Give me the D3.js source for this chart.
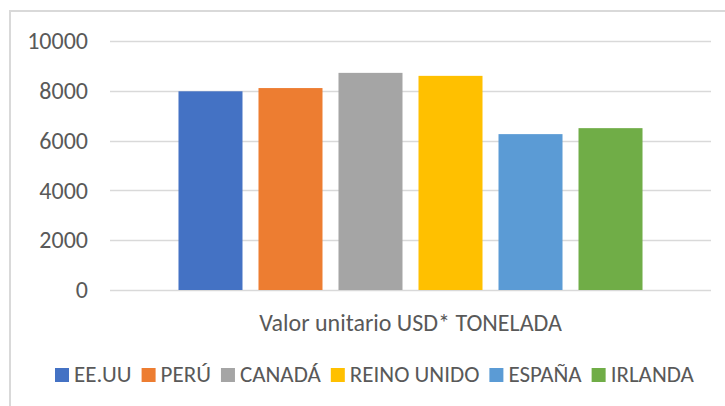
<!DOCTYPE html>
<html>
<head>
<meta charset="utf-8">
<script src="https://cdn.jsdelivr.net/npm/d3@7"></script>
<style>
  body { margin: 0; background: #fff; }
  text { font-family: Carlito, Calibri, "Liberation Sans", Arial, sans-serif; fill: #595959; }
</style>
</head>
<body>
<script>
const category = 'Valor unitario USD* TONELADA';
const countries = ['EE.UU', 'PERÚ', 'CANADÁ', 'REINO UNIDO', 'ESPAÑA', 'IRLANDA'];
const values = [7980, 8110, 8720, 8600, 6260, 6500];
const colors = ['#4472C4', '#ED7D31', '#A5A5A5', '#FFC000', '#5B9BD5', '#70AD47'];
const yTicks = [0, 2000, 4000, 6000, 8000, 10000];

const width = 725;
const height = 406;
const plot = { left: 110, right: 711, top: 41, bottom: 290 };

const svg = d3.select('body')
    .append('svg')
    .attr('width', width)
    .attr('height', height);

// chart frame (cropped at right and bottom)
svg.append('rect')
    .attr('x', 10)
    .attr('y', 11)
    .attr('width', width + 20)
    .attr('height', height + 20)
    .attr('fill', 'none')
    .attr('stroke', '#d9d9d9')
    .attr('stroke-width', 2);

const yScale = d3.scaleLinear()
    .domain([0, 10000])
    .range([plot.bottom, plot.top]);

const xOuter = d3.scaleBand()
    .domain([category])
    .range([plot.left, plot.right])
    .paddingInner(0)
    .paddingOuter(0.1476);

const xInner = d3.scaleBand()
    .domain(countries)
    .range([0, xOuter.bandwidth()])
    .paddingInner(0.2)
    .paddingOuter(0);

// gridlines
svg.append('g')
    .selectAll('line')
    .data(yTicks)
    .enter()
    .append('line')
    .attr('x1', plot.left)
    .attr('x2', plot.right)
    .attr('y1', d => Math.round(yScale(d)) + 0.5)
    .attr('y2', d => Math.round(yScale(d)) + 0.5)
    .attr('stroke', '#d9d9d9')
    .attr('stroke-width', 1.5);

const yAxis = d3.axisLeft(yScale)
    .tickValues(yTicks)
    .tickSize(0)
    .tickPadding(22)
    .tickFormat(d3.format('d'));

svg.append('g')
    .attr('transform', `translate(${plot.left}, 0)`)
    .call(yAxis)
    .call(g => g.select('.domain').remove())
    .call(g => g.selectAll('text')
        .style('font-size', '24px')
        .attr('fill', '#595959'));

// bars
svg.append('g')
    .attr('transform', `translate(${xOuter(category)}, 0)`)
    .selectAll('rect')
    .data(countries)
    .enter()
    .append('rect')
    .attr('x', d => xInner(d))
    .attr('y', (d, i) => yScale(values[i]))
    .attr('width', xInner.bandwidth())
    .attr('height', (d, i) => yScale(0) - yScale(values[i]))
    .attr('fill', (d, i) => colors[i]);

// category label
svg.append('text')
    .attr('x', xOuter(category) + xOuter.bandwidth() / 2)
    .attr('y', 331)
    .attr('text-anchor', 'middle')
    .style('font-size', '24px')
    .text(category);

// legend
const legend = svg.append('g');
const items = legend.selectAll('g')
    .data(countries)
    .enter()
    .append('g');

items.append('rect')
    .attr('width', 14)
    .attr('height', 14)
    .attr('y', 368)
    .attr('fill', (d, i) => colors[i]);

items.append('text')
    .attr('x', 19)
    .attr('y', 382)
    .style('font-size', '23px')
    .text(d => d);

let x = 55;
items.each(function () {
    const w = d3.select(this).select('text').node().getComputedTextLength();
    d3.select(this).attr('transform', `translate(${x}, 0)`);
    x += 19 + w + 10;
});
</script>
</body>
</html>
